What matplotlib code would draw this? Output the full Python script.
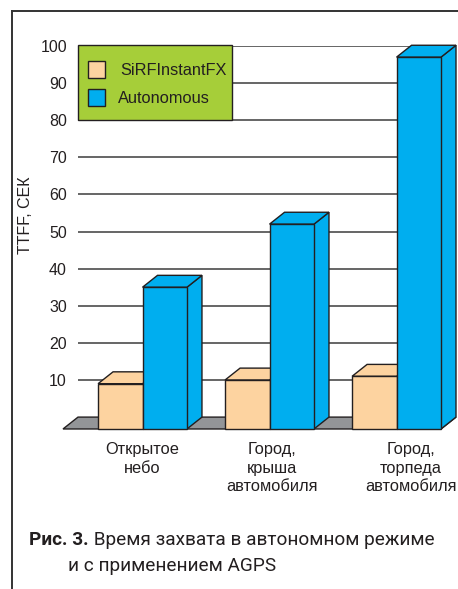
import matplotlib
matplotlib.use("Agg")
import matplotlib.pyplot as plt
from matplotlib.patches import Polygon, Rectangle
from matplotlib.lines import Line2D

# data
categories = ["Открытое\nнебо", "Город,\nкрыша\nавтомобиля", "Город,\nторпеда\nавтомобиля"]
sirf_values = [9, 10, 11]
autonomous_values = [35, 52, 97]
series_names = ["SiRFInstantFX", "Autonomous"]
y_ticks = [10, 20, 30, 40, 50, 60, 70, 80, 90, 100]
y_label = "TTFF, СЕК"
caption_bold = "Рис. 3."
caption_rest = " Время захвата в автономном режиме"
caption_line2 = "и с применением AGPS"

# style
ORANGE = "#fdd3a0"
BLUE = "#00aeef"
GREEN = "#a6ce39"
EDGE = "#231f20"
FLOOR = "#939598"
GRID = "#3c3c3c"
W, H = 458, 589

bar_w = 0.35
dx, dy = 0.118, 3.2          # 3d depth offset (x in category units, y in value units)
label_dx = [0.0, 0.02, 0.11]

plt.rcParams["font.family"] = ["Liberation Sans", "DejaVu Sans"]

fig = plt.figure(figsize=(W / 100, H / 100), dpi=100)
ax = fig.add_axes([78 / W, (H - 417.1) / H, (456 - 78) / W, (417.1 - 46) / H])
ax.set_xlim(-0.508, 2.468)
ax.set_ylim(0, 100)
for s in ax.spines.values():
    s.set_visible(False)
ax.set_axisbelow(True)
ax.yaxis.grid(True, color=GRID, lw=1.1)
ax.set_yticks(y_ticks)
ax.tick_params(axis="y", length=0, pad=8, labelsize=11.5, labelcolor="#231f20")
ax.set_xticks([i + d for i, d in enumerate(label_dx)])
ax.set_xticklabels(categories, fontsize=11.8, color="#231f20", linespacing=1.3)
ax.tick_params(axis="x", length=0, pad=18)


def box3d(x0, x1, v, color):
    front = Polygon([(x0, -dy), (x1, -dy), (x1, v), (x0, v)], closed=True)
    top = Polygon([(x0, v), (x1, v), (x1 + dx, v + dy), (x0 + dx, v + dy)], closed=True)
    side = Polygon([(x1, -dy), (x1 + dx, 0), (x1 + dx, v + dy), (x1, v)], closed=True)
    for p in (side, top, front):
        p.set_facecolor(color)
        p.set_edgecolor(EDGE)
        p.set_linewidth(1.0)
        p.set_joinstyle("miter")
        p.set_clip_on(False)
        ax.add_patch(p)


# floor
n = len(categories)
fx0, fx1 = -0.508 - dx, n - 1 + bar_w
floor = Polygon([(fx0, -dy), (fx1, -dy), (fx1 + dx, 0), (fx0 + dx, 0)], closed=True,
                facecolor=FLOOR, edgecolor=EDGE, lw=1.0, clip_on=False)
ax.add_patch(floor)

for i in range(n):
    box3d(i - bar_w, i, sirf_values[i], ORANGE)
    box3d(i, i + bar_w, autonomous_values[i], BLUE)

# legend drawn by hand
fig.patches.append(Rectangle((78 / W, 1 - 120 / H), 154 / W, 75 / H, transform=fig.transFigure,
                             facecolor=GREEN, edgecolor=EDGE, lw=1.0, zorder=5))
for k, (name, col, yc) in enumerate(zip(series_names, [ORANGE, BLUE], [69.5, 97.5])):
    fig.patches.append(Rectangle((88 / W, 1 - (yc + 8.5) / H), 17 / W, 17 / H,
                                 transform=fig.transFigure, facecolor=col,
                                 edgecolor=EDGE, lw=1.0, zorder=6))
    fig.text((120 - 2 * k) / W, 1 - (yc + 1) / H, name, fontsize=11.8, color="#231f20",
             va="center", ha="left", zorder=7)

# y label
fig.text(26 / W, 1 - 215 / H, y_label, rotation=90, fontsize=11.5, color="#231f20",
         ha="center", va="center")

# frame
fig.add_artist(Line2D([12 / W, 12 / W], [0, 1 - 11 / H], transform=fig.transFigure,
                      color="#333333", lw=1.4))
fig.add_artist(Line2D([12 / W, 1], [1 - 11 / H, 1 - 11 / H], transform=fig.transFigure,
                      color="#333333", lw=1.4))

# caption
cap_font = ["Roboto", "DejaVu Sans"]
t1 = fig.text(29 / W, 1 - 545 / H, caption_bold, fontsize=13.7, fontweight="bold",
              family=cap_font, color="#231f20", va="baseline")
fig.canvas.draw()
bb = t1.get_window_extent()
fig.text(bb.x1 / W, 1 - 545 / H, caption_rest, fontsize=13.7, family=cap_font,
         color="#231f20", va="baseline")
fig.text(68 / W, 1 - 571 / H, caption_line2, fontsize=13.7, family=cap_font,
         color="#231f20", va="baseline")

fig.savefig("out.png", dpi=100, facecolor="white")
